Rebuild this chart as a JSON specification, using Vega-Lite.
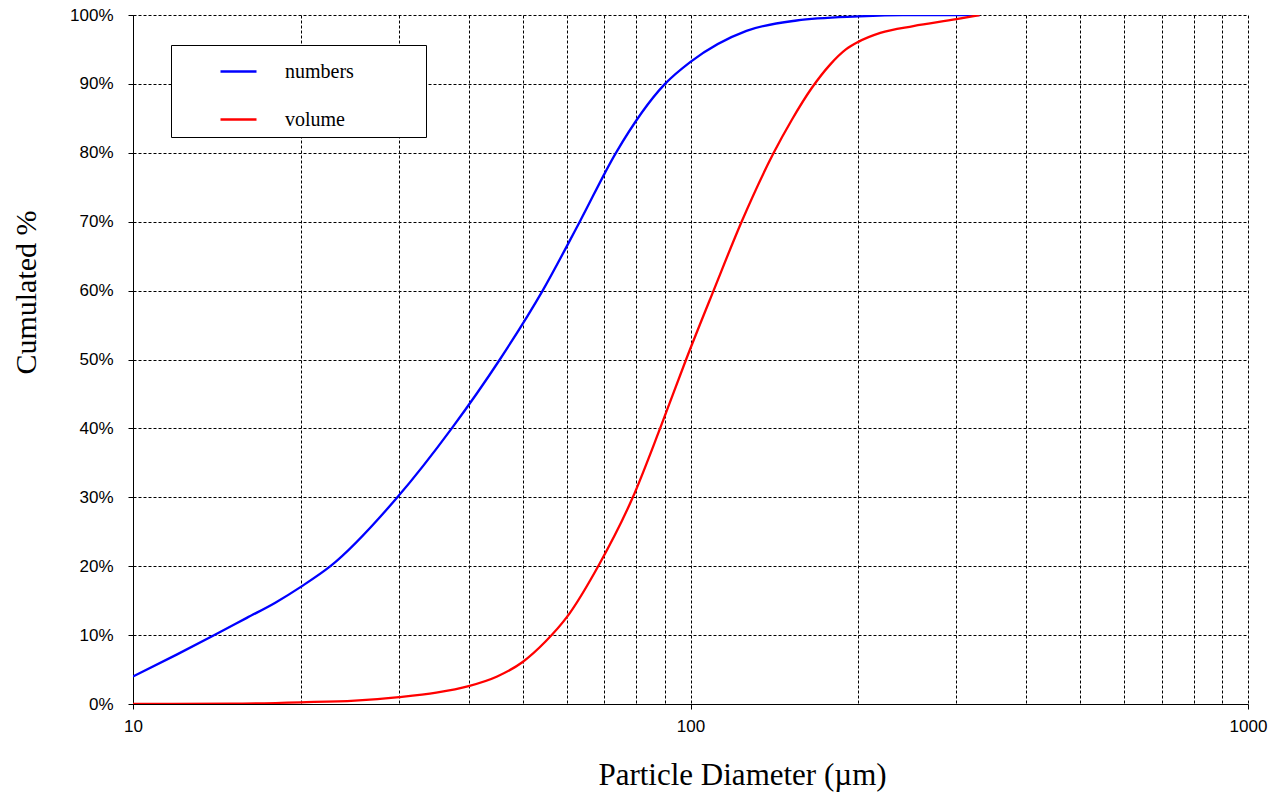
{
  "$schema": "https://vega.github.io/schema/vega-lite/v6.json",
  "autosize": "none",
  "width": 1115,
  "height": 689,
  "padding": {"left": 133, "top": 15, "right": 30, "bottom": 94},
  "background": "white",
  "data": {
    "values": [
      {"series": "numbers", "d": 10, "p": 4.0},
      {"series": "numbers", "d": 12, "p": 7.2},
      {"series": "numbers", "d": 14, "p": 10.0},
      {"series": "numbers", "d": 16, "p": 12.5},
      {"series": "numbers", "d": 18, "p": 14.7},
      {"series": "numbers", "d": 20, "p": 17.0},
      {"series": "numbers", "d": 22.6, "p": 20.0},
      {"series": "numbers", "d": 29.8, "p": 30.0},
      {"series": "numbers", "d": 37.3, "p": 40.0},
      {"series": "numbers", "d": 45.5, "p": 50.0},
      {"series": "numbers", "d": 54.3, "p": 60.0},
      {"series": "numbers", "d": 63.3, "p": 70.0},
      {"series": "numbers", "d": 73.5, "p": 80.0},
      {"series": "numbers", "d": 90, "p": 90.0},
      {"series": "numbers", "d": 100, "p": 93.2},
      {"series": "numbers", "d": 126, "p": 97.7},
      {"series": "numbers", "d": 155, "p": 99.2},
      {"series": "numbers", "d": 200, "p": 99.8},
      {"series": "numbers", "d": 240, "p": 100},
      {"series": "numbers", "d": 330, "p": 100},
      {"series": "volume", "d": 10, "p": 0},
      {"series": "volume", "d": 15, "p": 0.05},
      {"series": "volume", "d": 20, "p": 0.25},
      {"series": "volume", "d": 25, "p": 0.5},
      {"series": "volume", "d": 30, "p": 1.0},
      {"series": "volume", "d": 35, "p": 1.65},
      {"series": "volume", "d": 40, "p": 2.6},
      {"series": "volume", "d": 45, "p": 4.0},
      {"series": "volume", "d": 50, "p": 6.1},
      {"series": "volume", "d": 55, "p": 9.1},
      {"series": "volume", "d": 60, "p": 12.6},
      {"series": "volume", "d": 68.3, "p": 20.0},
      {"series": "volume", "d": 78.8, "p": 30.0},
      {"series": "volume", "d": 88.2, "p": 40.0},
      {"series": "volume", "d": 98.2, "p": 50.0},
      {"series": "volume", "d": 110, "p": 60.0},
      {"series": "volume", "d": 123.5, "p": 70.0},
      {"series": "volume", "d": 141, "p": 80.0},
      {"series": "volume", "d": 152, "p": 84.8},
      {"series": "volume", "d": 165, "p": 89.4},
      {"series": "volume", "d": 178, "p": 92.8},
      {"series": "volume", "d": 190, "p": 95.0},
      {"series": "volume", "d": 200, "p": 96.1},
      {"series": "volume", "d": 219, "p": 97.4},
      {"series": "volume", "d": 251, "p": 98.4},
      {"series": "volume", "d": 300, "p": 99.4},
      {"series": "volume", "d": 330, "p": 100}
    ]
  },
  "mark": {"type": "line", "interpolate": "monotone", "strokeWidth": 2.3, "clip": true},
  "encoding": {
    "x": {
      "field": "d",
      "type": "quantitative",
      "scale": {"type": "log", "domain": [10, 1000], "nice": false},
      "axis": {
        "title": "Particle Diameter (µm)",
        "values": [10, 20, 30, 40, 50, 60, 70, 80, 90, 100, 200, 300, 400, 500, 600, 700, 800, 900, 1000],
        "labelExpr": "(datum.value == 10 || datum.value == 100 || datum.value == 1000) ? datum.label : ''",
        "format": "d",
        "labelOverlap": false,
        "labelFlush": false,
        "tickColor": {"condition": {"test": "datum.value == 10 || datum.value == 100 || datum.value == 1000", "value": "black"}, "value": "transparent"},
        "titleX": 609,
        "titleY": 80,
        "titleFontSize": 31,
        "titleAlign": "center",
        "titleBaseline": "alphabetic",
        "labelPadding": 9
      }
    },
    "y": {
      "field": "p",
      "type": "quantitative",
      "scale": {"domain": [0, 100], "nice": false},
      "axis": {
        "title": "Cumulated %",
        "values": [0, 10, 20, 30, 40, 50, 60, 70, 80, 90, 100],
        "labelExpr": "datum.value + '%'",
        "titleAngle": -90,
        "titleX": -98,
        "titleY": 277,
        "titleAlign": "center",
        "titleBaseline": "alphabetic",
        "labelPadding": 15
      }
    },
    "color": {
      "field": "series",
      "type": "nominal",
      "scale": {"domain": ["numbers", "volume"], "range": ["#0000FF", "#FF0000"]},
      "legend": {
        "title": null,
        "orient": "none",
        "legendX": 38,
        "legendY": 30,
        "symbolType": "stroke",
        "symbolSize": 1296,
        "symbolStrokeWidth": 2.3,
        "symbolOffset": 41,
        "labelOffset": 27,
        "padding": 7,
        "rowPadding": 18,
        "labelFont": "Liberation Serif",
        "labelFontSize": 20,
        "labelColor": "black",
        "labelExpr": "datum.label + '\u2003\u2003\u2002\u2800'",
        "strokeColor": "black",
        "fillColor": "white",
        "labelLimit": 400
      }
    }
  },
  "config": {
    "view": {"stroke": null},
    "axis": {
      "domainColor": "black",
      "domainWidth": 1,
      "tickColor": "black",
      "tickSize": 5,
      "tickWidth": 1,
      "grid": true,
      "gridColor": "black",
      "gridOpacity": 1,
      "gridWidth": 1,
      "gridDash": [3, 2],
      "labelFont": "Liberation Sans",
      "labelFontSize": 17,
      "labelColor": "black",
      "titleFont": "Liberation Serif",
      "titleFontSize": 30,
      "titleFontWeight": "normal",
      "titleColor": "black"
    }
  }
}
